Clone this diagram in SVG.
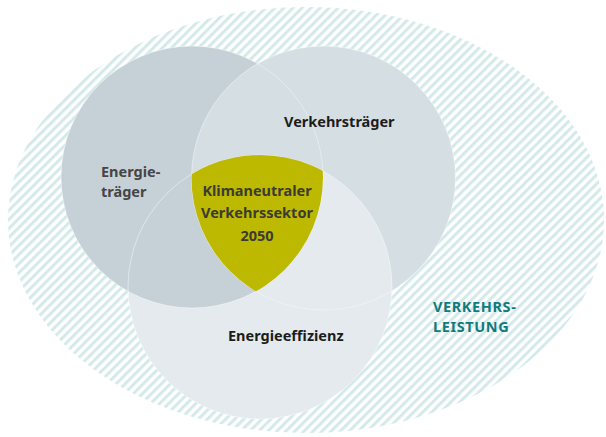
<svg xmlns="http://www.w3.org/2000/svg" width="606" height="437" viewBox="0 0 606 437">
  <defs>
    <pattern id="hatch" patternUnits="userSpaceOnUse" width="6.4" height="6.4" patternTransform="rotate(45)">
      <rect x="0" y="0" width="3" height="6.4" fill="#d4e9e9"/>
    </pattern>
    <clipPath id="clipL"><circle cx="192" cy="177" r="131"/></clipPath>
    <clipPath id="clipR"><circle cx="323.5" cy="178" r="132"/></clipPath>
    <clipPath id="clipB"><circle cx="260" cy="287" r="132"/></clipPath>
  </defs>
  <style>
    .lbl { font-family: "Noto Sans", "Open Sans", "Liberation Sans", sans-serif; font-weight: 700; font-size: 14.5px; }
    .dark { fill: #1c1c1c; }
    .grey { fill: #454545; }
    .core { fill: #3b3b34; }
    .teal { fill: #0f7b7f; letter-spacing: 0.6px; }
    .edge { fill: none; stroke: #ffffff; stroke-opacity: 0.55; stroke-width: 0.8; }
  </style>

  <rect width="606" height="437" fill="#ffffff"/>

  <!-- Verkehrsleistung: hatched background field -->
  <g id="verkehrsleistung">
    <ellipse cx="306" cy="220" rx="298" ry="213" fill="url(#hatch)"/>
    <text class="lbl teal" x="433" y="312">VERKEHRS-</text>
    <text class="lbl teal" x="433" y="332">LEISTUNG</text>
  </g>

  <!-- three overlapping sets -->
  <g id="energieeffizienz">
    <circle cx="260" cy="287" r="132" fill="#e4eaed"/>
  </g>
  <g id="verkehrstraeger">
    <circle cx="323.5" cy="178" r="132" fill="#d5dee3"/>
  </g>
  <g id="energietraeger">
    <circle cx="192" cy="177" r="131" fill="#c6d1d7"/>
  </g>

  <!-- overlap tints -->
  <g id="overlaps">
    <g clip-path="url(#clipL)">
      <circle cx="323.5" cy="178" r="132" fill="#d5dee3"/>
    </g>
    <g clip-path="url(#clipR)">
      <circle cx="260" cy="287" r="132" fill="#e4eaed"/>
    </g>
    <circle class="edge" cx="192" cy="177" r="131"/>
    <circle class="edge" cx="323.5" cy="178" r="132"/>
    <circle class="edge" cx="260" cy="287" r="132"/>
  </g>

  <!-- common core of all three sets -->
  <g id="kern">
    <g clip-path="url(#clipL)">
      <g clip-path="url(#clipR)">
        <circle cx="260" cy="287" r="132" fill="#bdb800"/>
      </g>
    </g>
    <text class="lbl core" x="257" y="196" text-anchor="middle">Klimaneutraler</text>
    <text class="lbl core" x="257" y="218" text-anchor="middle">Verkehrssektor</text>
    <text class="lbl core" x="257" y="241" text-anchor="middle">2050</text>
  </g>

  <!-- set labels -->
  <g id="labels">
    <text class="lbl grey" x="101" y="177">Energie-</text>
    <text class="lbl grey" x="101" y="197">träger</text>
    <text class="lbl dark" x="284" y="127">Verkehrsträger</text>
    <text class="lbl dark" x="228" y="341">Energieeffizienz</text>
  </g>
</svg>
